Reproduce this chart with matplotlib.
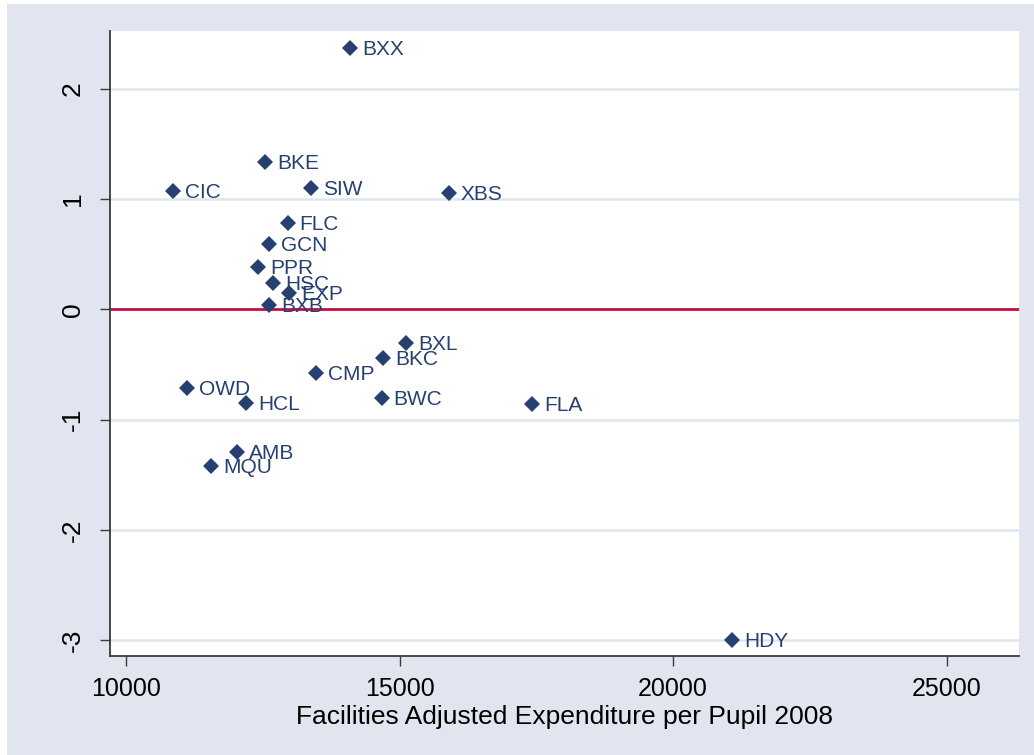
import matplotlib
matplotlib.use("Agg")
import matplotlib.pyplot as plt
from matplotlib.patches import Rectangle

plt.rcParams['font.family'] = ['Liberation Sans', 'DejaVu Sans']
plt.rcParams['axes.unicode_minus'] = False

# 学校代码与数值
schools = ["BXX", "BKE", "CIC", "SIW", "XBS", "FLC", "GCN", "PPR", "HSC", "EXP",
           "BXB", "BXL", "BKC", "CMP", "OWD", "HCL", "BWC", "FLA", "AMB", "MQU", "HDY"]
expenditure = [14094, 12541, 10865, 13376, 15904, 12956, 12614, 12418, 12687, 12979,
               12614, 15118, 14703, 13473, 11109, 12193, 14674, 17426, 12023, 11554, 21077]
residual = [2.373, 1.338, 1.078, 1.100, 1.054, 0.782, 0.594, 0.388, 0.238, 0.152,
            0.041, -0.307, -0.443, -0.573, -0.715, -0.851, -0.806, -0.860, -1.296, -1.420, -2.999]

x_ticks = [10000, 15000, 20000, 25000]
y_ticks = [-3, -2, -1, 0, 1, 2]

bg = "#e0e5ef"
navy = "#26406f"
red = "#c4103f"
grid = "#dfe5ef"
axis_col = "#3a3a3a"

W, H = 1034, 755
fig = plt.figure(figsize=(W / 100, H / 100), dpi=100, facecolor="white")
# 背景（左侧和顶部留一条白边）
bg_rect = Rectangle((7 / W, 0), 1, 1 - 4 / H, transform=fig.transFigure,
                    facecolor=bg, edgecolor="none", zorder=-10)
fig.patches.append(bg_rect)

ax = fig.add_axes([110 / W, 1 - 656 / H, (1019 - 110) / W, (656 - 31) / H])
ax.set_zorder(1)
ax.set_facecolor("white")

for y in y_ticks:
    ax.axhline(y, color=grid, linewidth=1.8, zorder=1)
ax.axhline(0, color=red, linewidth=2, zorder=2)

ax.plot(expenditure, residual, linestyle="none", marker="D", markersize=8.3,
        color=navy, markeredgewidth=0, zorder=3)
for name, x, y in zip(schools, expenditure, residual):
    ax.annotate(name, (x, y), xytext=(8.6, -1.2), textcoords="offset points",
                ha="left", va="center", fontsize=15, color=navy, zorder=4)

ax.set_xlim(9708, 26322)
ax.set_ylim(-3.145, 2.526)
ax.set_xticks(x_ticks)
ax.set_yticks(y_ticks)
ax.set_yticklabels([str(v) for v in y_ticks], rotation=90, va="center")

for side in ["top", "right"]:
    ax.spines[side].set_visible(False)
for side in ["left", "bottom"]:
    ax.spines[side].set_color(axis_col)
    ax.spines[side].set_linewidth(1.3)

ax.tick_params(axis="both", direction="out", length=7.2, width=1, color=axis_col,
               labelcolor="black")
ax.tick_params(axis="x", pad=8, labelsize=18)
ax.tick_params(axis="y", pad=11, labelsize=19)
ax.set_xlabel("Facilities Adjusted Expenditure per Pupil 2008", fontsize=19, labelpad=3)

fig.savefig("out.png", dpi=100, facecolor=fig.get_facecolor())
